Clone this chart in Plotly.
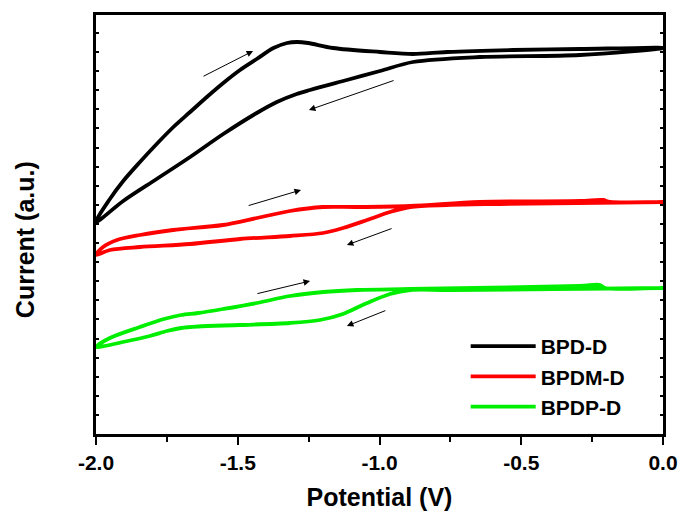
import plotly.graph_objects as go

# ---- data (Potential in V, Current in arbitrary units) ----
bpd_fwd_x = [-2.0, -1.951, -1.904, -1.845, -1.786, -1.727, -1.668, -1.609, -1.551, -1.492, -1.433, -1.374, -1.326, -1.291, -1.252, -1.164, -0.998, -0.882, -0.762, -0.529, -0.293, 0.0]
bpd_fwd_y = [2.12, 2.35, 2.53, 2.72, 2.90, 3.07, 3.22, 3.37, 3.51, 3.64, 3.75, 3.86, 3.91, 3.92, 3.91, 3.86, 3.82, 3.80, 3.82, 3.84, 3.85, 3.86]
bpd_rev_x = [0.0, -0.293, -0.646, -0.882, -0.998, -1.115, -1.245, -1.292, -1.362, -1.433, -1.551, -1.668, -1.786, -1.904, -2.0]
bpd_rev_y = [3.81, 3.79, 3.77, 3.72, 3.63, 3.54, 3.44, 3.40, 3.32, 3.21, 3.00, 2.77, 2.55, 2.33, 2.12]

bpdm_fwd_x = [-2.0, -1.975, -1.926, -1.845, -1.728, -1.552, -1.432, -1.316, -1.199, -1.079, -0.892, -0.646, -0.293, -0.212, -0.187, 0.0]
bpdm_fwd_y = [1.79, 1.87, 1.94, 1.99, 2.04, 2.09, 2.16, 2.23, 2.27, 2.27, 2.28, 2.32, 2.33, 2.34, 2.32, 2.32]
bpdm_rev_x = [0.0, -0.575, -0.762, -0.892, -0.963, -1.044, -1.129, -1.199, -1.316, -1.492, -1.668, -1.845, -1.951, -2.0]
bpdm_rev_y = [2.31, 2.30, 2.29, 2.27, 2.22, 2.14, 2.06, 2.01, 1.98, 1.95, 1.90, 1.87, 1.84, 1.79]

bpdp_fwd_x = [-2.0, -1.951, -1.845, -1.760, -1.700, -1.640, -1.552, -1.432, -1.316, -1.199, -1.079, -0.892, -0.293, -0.222, -0.205, 0.0]
bpdp_fwd_y = [0.87, 0.96, 1.07, 1.15, 1.19, 1.21, 1.25, 1.31, 1.38, 1.42, 1.44, 1.45, 1.48, 1.49, 1.46, 1.46]
bpdp_rev_x = [0.0, -0.751, -0.892, -0.963, -1.044, -1.129, -1.210, -1.316, -1.492, -1.640, -1.700, -1.750, -1.810, -1.905, -2.0]
bpdp_rev_y = [1.45, 1.44, 1.44, 1.40, 1.31, 1.20, 1.14, 1.11, 1.09, 1.075, 1.06, 1.03, 0.98, 0.92, 0.87]

# scan-direction arrows: (tail_x, tail_y, head_x, head_y)
arrow_tail_x = [-1.626, -0.945, -1.467, -0.952, -1.436, -0.974]
arrow_tail_y = [3.57, 3.54, 2.28, 2.06, 1.40, 1.24]
arrow_head_x = [-1.446, -1.249, -1.277, -1.115, -1.245, -1.115]
arrow_head_y = [3.83, 3.24, 2.44, 1.89, 1.53, 1.08]

names = ["BPD-D", "BPDM-D", "BPDP-D"]
colors = ["#000000", "#ff0000", "#00ee00"]

x_ticks = [-2.0, -1.5, -1.0, -0.5, 0.0]
x_ticklabels = ["-2.0", "-1.5", "-1.0", "-0.5", "0.0"]

FONT = "Arial, 'Liberation Sans', sans-serif"

fig = go.Figure()
series = [
    (bpd_fwd_x + bpd_rev_x[1:], bpd_fwd_y + bpd_rev_y[1:]),
    (bpdm_fwd_x + bpdm_rev_x[1:], bpdm_fwd_y + bpdm_rev_y[1:]),
    (bpdp_fwd_x + bpdp_rev_x[1:], bpdp_fwd_y + bpdp_rev_y[1:]),
]
for (xs, ys), n, c in zip(series, names, colors):
    fig.add_trace(go.Scatter(x=xs, y=ys, mode="lines", name=n,
                             line=dict(color=c, width=3.8, shape="spline", smoothing=0.9)))

for tx, ty, hx, hy in zip(arrow_tail_x, arrow_tail_y, arrow_head_x, arrow_head_y):
    fig.add_annotation(x=hx, y=hy, ax=tx, ay=ty, xref="x", yref="y", axref="x", ayref="y",
                       text="", showarrow=True, arrowhead=2, arrowsize=1.3, arrowwidth=1,
                       arrowcolor="black", standoff=0)

# y-axis title as an annotation (sits slightly below the plot centre in the reference)
fig.add_annotation(text="Current (a.u.)", xref="paper", yref="paper",
                   x=-0.125, y=0.463, xanchor="center", yanchor="middle",
                   textangle=-90, showarrow=False,
                   font=dict(family=FONT, size=25, color="black", weight="bold"))

fig.update_layout(
    width=679, height=511,
    margin=dict(l=96, r=16, t=15, b=77),
    paper_bgcolor="white", plot_bgcolor="white",
    font=dict(family=FONT, color="black"),
    showlegend=True,
    legend=dict(x=0.652, y=0.258, xanchor="left", yanchor="top",
                font=dict(family=FONT, size=21, color="black", weight="bold"),
                bgcolor="rgba(0,0,0,0)", itemwidth=65, tracegroupgap=0),
    xaxis=dict(range=[-2.0, 0.0], tickvals=x_ticks, ticktext=x_ticklabels, automargin=False,
               showline=True, linecolor="black", linewidth=2.5, mirror=True,
               ticks="outside", ticklen=8, tickwidth=2, tickcolor="black",
               minor=dict(dtick=0.25, tick0=0, ticks="outside", ticklen=5, tickwidth=2, tickcolor="black"),
               showgrid=False, zeroline=False,
               tickfont=dict(family=FONT, size=21, weight="bold"),
               title=dict(text="Potential (V)", font=dict(family=FONT, size=25, weight="bold"), standoff=19)),
    yaxis=dict(range=[0, 4.19], tick0=0, dtick=0.191, showticklabels=False, automargin=False,
               showline=True, linecolor="black", linewidth=2.5, mirror="ticks",
               ticks="inside", ticklen=3, tickwidth=1.5, tickcolor="black",
               showgrid=False, zeroline=False),
)

fig.write_html("out.html")
